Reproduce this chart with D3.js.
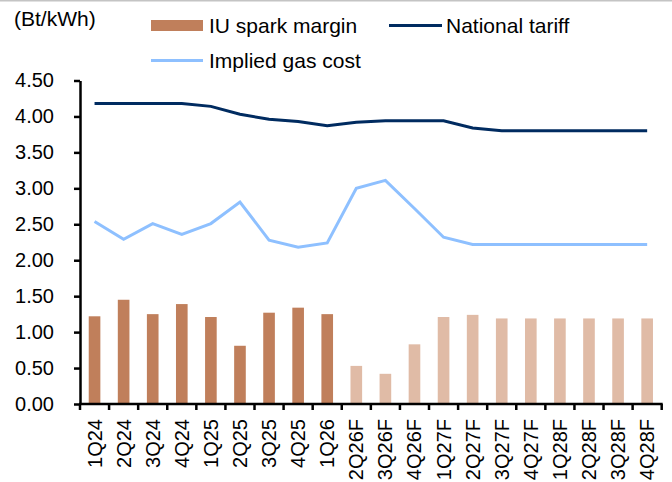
<!DOCTYPE html>
<html>
<head>
<meta charset="utf-8">
<script src="https://cdn.jsdelivr.net/npm/d3@7"></script>
<style>
  body { margin: 0; background: #fff; }
  svg { display: block; font-family: Arial, "Liberation Sans", sans-serif; }
</style>
</head>
<body>
<div id="chart"></div>
<script>
// quarters, actual then forecast
const quarters = ["1Q24", "2Q24", "3Q24", "4Q24", "1Q25", "2Q25", "3Q25", "4Q25", "1Q26",
  "2Q26F", "3Q26F", "4Q26F", "1Q27F", "2Q27F", "3Q27F", "4Q27F", "1Q28F", "2Q28F", "3Q28F", "4Q28F"];
const sparkMargin = [1.22, 1.45, 1.25, 1.39, 1.21, 0.81, 1.27, 1.34, 1.25,
  0.53, 0.42, 0.83, 1.21, 1.24, 1.19, 1.19, 1.19, 1.19, 1.19, 1.19];
const nationalTariff = [4.18, 4.18, 4.18, 4.18, 4.14, 4.03, 3.96, 3.93, 3.87,
  3.92, 3.94, 3.94, 3.94, 3.84, 3.80, 3.80, 3.80, 3.80, 3.80, 3.80];
const gasCost = [2.54, 2.29, 2.51, 2.36, 2.51, 2.81, 2.28, 2.18, 2.24,
  3.00, 3.11, 2.72, 2.32, 2.22, 2.22, 2.22, 2.22, 2.22, 2.22, 2.22];
const yTicks = [0, 0.5, 1, 1.5, 2, 2.5, 3, 3.5, 4, 4.5];

const width = 672, height = 482;
const margin = {top: 80.5, right: 10.3, bottom: 78, left: 80};

const svg = d3.select('#chart').append('svg')
    .attr('width', width)
    .attr('height', height);

// thin grey frame line at the very top
svg.append('line')
    .attr('x1', 0).attr('x2', width)
    .attr('y1', 0.5).attr('y2', 0.5)
    .attr('stroke', '#c4c4c4')
    .attr('stroke-width', 2);

const x = d3.scaleBand()
    .domain(quarters)
    .range([margin.left, width - margin.right])
    .paddingInner(0.6)
    .paddingOuter(0.3);

// same band, no padding -> used for tick boundaries
const xCell = d3.scaleBand()
    .domain(quarters)
    .range([margin.left, width - margin.right]);

const y = d3.scaleLinear()
    .domain([0, 4.5])
    .range([height - margin.bottom, margin.top]);

const cx = d => xCell(d) + xCell.bandwidth() / 2;

// bars
svg.append('g')
    .selectAll('rect')
    .data(quarters)
    .join('rect')
    .attr('x', d => x(d))
    .attr('width', x.bandwidth())
    .attr('y', (d, i) => y(sparkMargin[i]))
    .attr('height', (d, i) => y(0) - y(sparkMargin[i]))
    .attr('fill', d => d.endsWith('F') ? '#e0bba6' : '#c07f5b');

// lines
const line = vals => d3.line()
    .x((d, i) => cx(quarters[i]))
    .y(d => y(d))(vals);

svg.append('path')
    .attr('d', line(gasCost))
    .attr('fill', 'none')
    .attr('stroke', '#8ec0ff')
    .attr('stroke-width', 3);

svg.append('path')
    .attr('d', line(nationalTariff))
    .attr('fill', 'none')
    .attr('stroke', '#002b60')
    .attr('stroke-width', 3);

// y axis
const yAxis = svg.append('g')
    .attr('transform', 'translate(' + margin.left + ',0)')
    .call(d3.axisLeft(y).tickValues(yTicks).tickFormat(d3.format('.2f'))
        .tickSize(6).tickPadding(20).tickSizeOuter(0));
yAxis.select('.domain').attr('stroke', '#000').attr('stroke-width', 2.5);
yAxis.selectAll('.tick line').attr('stroke', '#000').attr('stroke-width', 2.5);
yAxis.selectAll('text').attr('font-size', 20).attr('fill', '#000')
    .attr('font-family', 'Arial, "Liberation Sans", sans-serif');

// x axis: baseline + boundary ticks + rotated labels
const xAxis = svg.append('g')
    .attr('transform', 'translate(0,' + y(0) + ')');
xAxis.append('line')
    .attr('x1', xCell.range()[0] - 1).attr('x2', xCell.range()[1] + 1)
    .attr('stroke', '#000').attr('stroke-width', 2.5);
xAxis.selectAll('line.bound')
    .data(quarters.concat(['end']))
    .join('line')
    .attr('class', 'bound')
    .attr('x1', d => d === 'end' ? xCell.range()[1] : xCell(d))
    .attr('x2', d => d === 'end' ? xCell.range()[1] : xCell(d))
    .attr('y1', 0).attr('y2', 6)
    .attr('stroke', '#000').attr('stroke-width', 2.5);
xAxis.selectAll('text')
    .data(quarters)
    .join('text')
    .attr('transform', d => 'translate(' + (cx(d) + 7) + ',15) rotate(-90)')
    .attr('text-anchor', 'end')
    .attr('font-size', 20)
    .text(d => d);

// unit label
svg.append('text')
    .attr('x', 14).attr('y', 26)
    .attr('font-size', 21)
    .text('(Bt/kWh)');

// legend
const legend = svg.append('g').attr('font-size', 21);
legend.append('rect')
    .attr('x', 151).attr('y', 20).attr('width', 52).attr('height', 11)
    .attr('fill', '#c07f5b');
legend.append('text').attr('x', 209).attr('y', 33).text('IU spark margin');
legend.append('line')
    .attr('x1', 389).attr('x2', 442).attr('y1', 25.5).attr('y2', 25.5)
    .attr('stroke', '#002b60').attr('stroke-width', 3);
legend.append('text').attr('x', 446).attr('y', 33).text('National tariff');
legend.append('line')
    .attr('x1', 151).attr('x2', 203).attr('y1', 60.5).attr('y2', 60.5)
    .attr('stroke', '#8ec0ff').attr('stroke-width', 3);
legend.append('text').attr('x', 209).attr('y', 68).text('Implied gas cost');
</script>
</body>
</html>
